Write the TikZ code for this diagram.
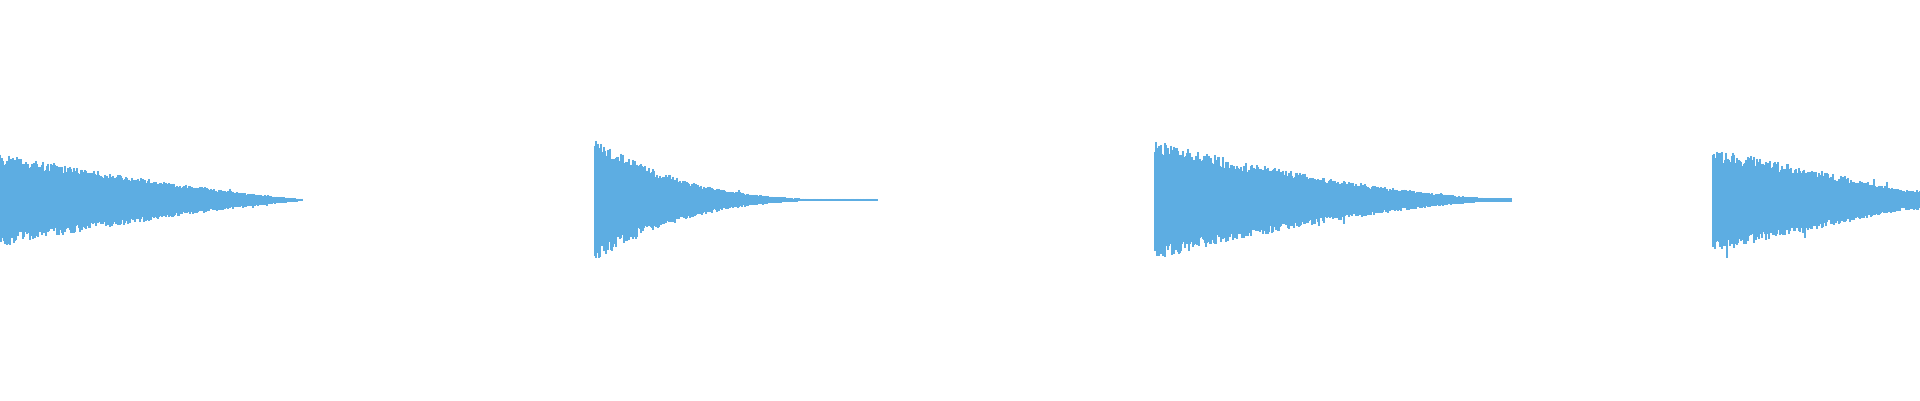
\documentclass[tikz,border=0pt]{standalone}
\definecolor{wave}{RGB}{93,173,226}
\begin{document}
\begin{tikzpicture}[x=1pt,y=1pt,wv/.style={draw=wave,line width=1.3pt}]
\useasboundingbox (0,0) rectangle (1920,400);
\pgfmathsetseed{7}
% segment: start x, length, amplitude, power, floor
\foreach \sx/\len/\A/\p/\fl in {0/302/47/1.3/1.5, 595/282/62/3.2/1.2, 1155/356/60/1.6/2, 1713/207/52/0.9/10}{
  \foreach \i in {0,...,\len}{
    \pgfmathsetmacro\amp{max(\fl,\A*(1-\i/(\len+20))^\p)}
    \pgfmathsetmacro\up{\amp*(0.72+0.28*rnd)+(rnd<0.006)*\amp*0.35}
    \pgfmathsetmacro\dn{\amp*(0.72+0.28*rnd)+(rnd<0.006)*\amp*0.35}
    \draw[wv] (\sx+\i,200+\up) -- (\sx+\i,200-\dn);
  }
}
\end{tikzpicture}
\end{document}
